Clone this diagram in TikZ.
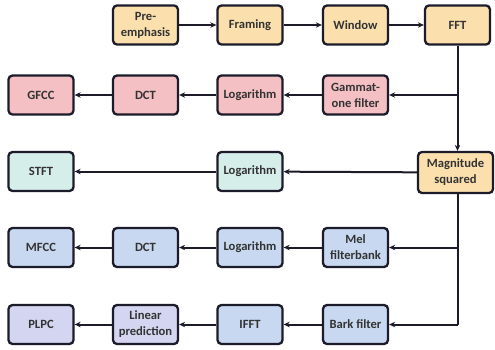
\documentclass[tikz,border=0pt]{standalone}
\usepackage{fontspec}
\setmainfont{Carlito}
\usetikzlibrary{arrows.meta}
\definecolor{cOrange}{HTML}{FBE0AE}
\definecolor{cPink}{HTML}{F5C0C4}
\definecolor{cTeal}{HTML}{D6EEEA}
\definecolor{cBlue}{HTML}{C7D8F0}
\definecolor{cLilac}{HTML}{D3D5F1}
\definecolor{cEdge}{HTML}{1B1B2A}
\definecolor{cText}{HTML}{333333}
\tikzset{
  blk/.style={draw=cEdge, line width=2.3bp, rounded corners=4bp,
    minimum width=65bp, minimum height=39bp, inner sep=1bp,
    align=center, text=cText, font=\fontsize{12.6bp}{16bp}\selectfont\bfseries},
  flow/.style={draw=cEdge, line width=2bp, -{Stealth[length=6bp,width=5.5bp]}},
  trunk/.style={draw=cEdge, line width=2bp}
}
\begin{document}
\begin{tikzpicture}[x=1bp, y=-1bp]
\useasboundingbox (0,0) rectangle (495,349);
% first row: framing chain
\node[blk, fill=cOrange] (pre) at (145.5,25) {Pre-\\emphasis};
\node[blk, fill=cOrange] (frm) at (250,25) {Framing};
\node[blk, fill=cOrange] (win) at (355.5,25) {Window};
\node[blk, fill=cOrange] (fft) at (457.5,25) {FFT};
% GFCC row
\node[blk, fill=cPink] (gfcc) at (41,95) {GFCC};
\node[blk, fill=cPink] (dct1) at (145.5,95) {DCT};
\node[blk, fill=cPink] (log1) at (250,95) {Logarithm};
\node[blk, fill=cPink] (gam) at (355.5,95) {Gammat-\\one filter};
% STFT row
\node[blk, fill=cTeal] (stft) at (41,171.5) {STFT};
\node[blk, fill=cTeal] (log2) at (250,171.5) {Logarithm};
\node[blk, fill=cOrange, minimum width=75bp, minimum height=41bp] (mag) at (455.5,172.5) {Magnitude\\squared};
% MFCC row
\node[blk, fill=cBlue] (mfcc) at (41,247.5) {MFCC};
\node[blk, fill=cBlue] (dct2) at (145.5,247.5) {DCT};
\node[blk, fill=cBlue] (log3) at (250,247.5) {Logarithm};
\node[blk, fill=cBlue] (mel) at (355.5,247.5) {Mel\\filterbank};
% PLPC row
\node[blk, fill=cLilac] (plpc) at (41,324.5) {PLPC};
\node[blk, fill=cLilac] (lp) at (145.5,324.5) {Linear\\prediction};
\node[blk, fill=cBlue] (ifft) at (250,324.5) {IFFT};
\node[blk, fill=cBlue] (bark) at (355.5,324.5) {Bark filter};

% junctions on the vertical trunks
\coordinate (jg) at (fft.south |- gam.east);
\coordinate (jm) at (fft.south |- mel.east);
\coordinate (jb) at (fft.south |- bark.east);

% connectors
\draw[flow] (pre) -- (frm);
\draw[flow] (frm) -- (win);
\draw[flow] (win) -- (fft);
\draw[flow] (fft.south) -- (fft.south |- mag.north);
\draw[flow] (jg) -- (gam.east);
\draw[flow] (gam) -- (log1);
\draw[flow] (log1) -- (dct1);
\draw[flow] (dct1) -- (gfcc);
\draw[flow] (mag) -- (log2);
\draw[flow] (log2) -- (stft);
\draw[trunk] (fft.south |- mag.south) -- (jb);
\draw[flow] (jm) -- (mel.east);
\draw[flow] (jb) -- (bark.east);
\draw[flow] (mel) -- (log3);
\draw[flow] (log3) -- (dct2);
\draw[flow] (dct2) -- (mfcc);
\draw[flow] (bark) -- (ifft);
\draw[flow] (ifft) -- (lp);
\draw[flow] (lp) -- (plpc);
\end{tikzpicture}
\end{document}
